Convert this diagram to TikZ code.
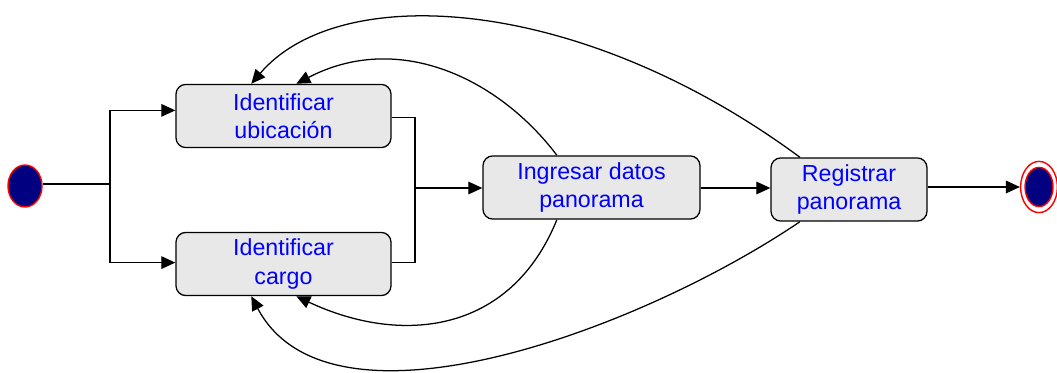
\documentclass[tikz,border=0pt]{standalone}
\usepackage{fontspec}
\setmainfont{Liberation Sans}
\usetikzlibrary{arrows.meta,shapes.geometric}
\definecolor{navy}{RGB}{0,0,128}
\tikzset{
  act/.style={draw, line width=0.9pt, rounded corners=7pt, fill=black!9,
    text=blue, align=center, font=\fontsize{16.5}{20}\selectfont,
    inner sep=0pt, minimum height=1.58cm},
  arr/.style={line width=0.9pt, -{Triangle[length=10pt,width=9pt]}},
  ln/.style={line width=0.9pt}
}
\begin{document}
\begin{tikzpicture}[x=0.025cm,y=-0.025cm]
  \useasboundingbox (0,0) rectangle (1057,373);

  %% start and end
  \node[ellipse, draw=red, line width=1pt, fill=navy, minimum width=0.85cm, minimum height=1.05cm] (start) at (25,186) {};
  \node[ellipse, draw=red, line width=1pt, minimum width=0.92cm, minimum height=1.28cm] (stop) at (1039,187) {};
  \node[ellipse, draw=red, line width=1pt, fill=navy, minimum width=0.7cm, minimum height=0.98cm] at (stop.center) {};

  %% activities
  \node[act, minimum width=5.375cm] (ubic) at (283.5,116) {Identificar\\ubicación};
  \node[act, minimum width=5.375cm] (cargo) at (283.5,264) {Identificar\\cargo};
  \node[act, minimum width=5.425cm] (ingr) at (591.5,187.5) {Ingresar datos\\panorama};
  \node[act, minimum width=3.9cm] (regi) at (849,189.5) {Registrar\\panorama};

  %% fork and join
  \coordinate (fork) at (110,184);
  \coordinate (join) at (415,188);
  \draw[ln] (fork -| start.east) -- (fork);
  \draw[arr] (fork) |- ([yshift=4pt]ubic.west);
  \draw[arr] (fork) |- ([yshift=1pt]cargo.west);
  \draw[ln] ([yshift=-1pt]ubic.east) -| (join);
  \draw[ln] ([yshift=1pt]cargo.east) -| (join);
  \draw[arr] (join) -- (ingr.west |- join);
  \draw[arr] (ingr.east |- join) -- (regi.west |- join);
  \draw[arr] (regi.east |- stop) -- (stop.west);

  %% back loops
  \draw[arr] ([xshift=21pt]regi.north west) .. controls (580,-5) and (340,-20) .. ([xshift=54pt]ubic.north west);
  \draw[arr] ([xshift=53pt]ingr.north west) .. controls (500,80) and (400,30) .. ([xshift=86pt]ubic.north west);
  \draw[arr] ([xshift=53pt]ingr.south west) .. controls (510,335) and (400,345) .. ([xshift=86pt]cargo.south west);
  \draw[arr] ([xshift=21pt]regi.south west) .. controls (640,330) and (330,445) .. ([xshift=54pt]cargo.south west);
\end{tikzpicture}
\end{document}
